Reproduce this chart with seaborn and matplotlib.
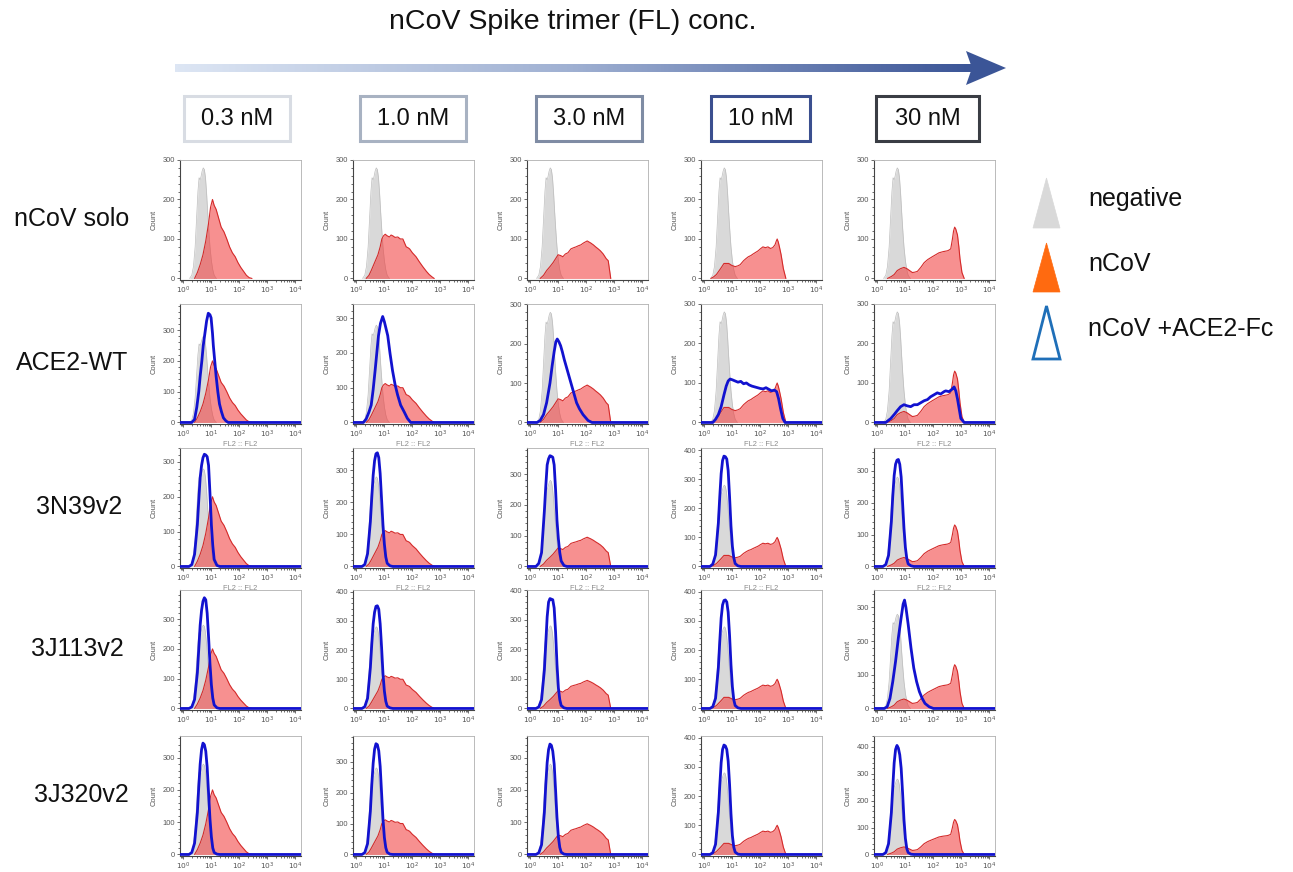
import numpy as np
import matplotlib
matplotlib.use("Agg")
import matplotlib.pyplot as plt
from matplotlib.colors import LinearSegmentedColormap
from matplotlib.patches import Polygon, Rectangle
from matplotlib.ticker import FixedLocator, MultipleLocator, LogLocator, NullFormatter
import seaborn as sns

sns.set_theme(style="white")
plt.rcParams["font.family"] = ["Liberation Sans", "DejaVu Sans"]

# ---------------------------------------------------------------- labels
concentrations = ["0.3 nM", "1.0 nM", "3.0 nM", "10 nM", "30 nM"]
constructs = ["nCoV solo", "ACE2-WT", "3N39v2", "3J113v2", "3J320v2"]
legend_labels = ["negative", "nCoV", "nCoV +ACE2-Fc"]

# ---------------------------------------------------------------- negative control (log10 FL2, count)
neg_logx = [0.22, 0.30, 0.36, 0.42, 0.47, 0.52, 0.56, 0.60, 0.63, 0.67, 0.71,
            0.75, 0.79, 0.83, 0.87, 0.91, 0.95, 1.00, 1.05, 1.10, 1.18]
neg_count = [0, 8, 30, 80, 150, 220, 255, 250, 258, 272, 280,
             276, 255, 215, 165, 120, 80, 45, 22, 8, 0]

# ---------------------------------------------------------------- nCoV spike binding, one per concentration
red_logx = [
    [0.40, 0.50, 0.60, 0.70, 0.80, 0.90, 0.97, 1.04, 1.10, 1.17, 1.25, 1.35, 1.45,
     1.55, 1.65, 1.75, 1.85, 1.95, 2.05, 2.15, 2.25, 2.35, 2.45],
    [0.35, 0.45, 0.53, 0.65, 0.77, 0.85, 0.91, 0.97, 1.03, 1.10, 1.18, 1.24, 1.30,
     1.38, 1.48, 1.57, 1.66, 1.72, 1.78, 1.84, 1.90, 2.00, 2.13, 2.25, 2.37, 2.50,
     2.60, 2.70, 2.78],
    [0.35, 0.47, 0.58, 0.70, 0.81, 0.90, 0.99, 1.08, 1.16, 1.25, 1.34, 1.45, 1.55,
     1.63, 1.72, 1.80, 1.90, 2.03, 2.10, 2.15, 2.25, 2.33, 2.42, 2.50, 2.60, 2.71,
     2.78, 2.83, 2.87],
    [0.23, 0.33, 0.43, 0.58, 0.70, 0.80, 0.87, 0.98, 1.10, 1.20, 1.28, 1.34, 1.40,
     1.48, 1.57, 1.66, 1.74, 1.83, 1.92, 2.00, 2.09, 2.18, 2.27, 2.36, 2.44, 2.52,
     2.57, 2.60, 2.64, 2.68, 2.74, 2.82, 2.91],
    [0.36, 0.50, 0.60, 0.71, 0.83, 0.95, 1.05, 1.15, 1.25, 1.34, 1.43, 1.55, 1.67,
     1.80, 1.96, 2.08, 2.20, 2.35, 2.50, 2.56, 2.62, 2.68, 2.72, 2.76, 2.80, 2.86,
     2.91, 2.95, 3.02, 3.10],
]
red_count = [
    [0, 15, 35, 60, 95, 140, 180, 200, 185, 175, 155, 130, 118,
     100, 80, 65, 55, 40, 28, 18, 8, 2, 0],
    [0, 8, 20, 40, 60, 80, 100, 108, 112, 108, 105, 110, 108,
     104, 105, 100, 100, 90, 80, 78, 75, 65, 55, 42, 30, 18, 10, 4, 0],
    [0, 8, 20, 30, 40, 50, 60, 58, 55, 62, 65, 75, 78,
     80, 83, 85, 90, 95, 92, 90, 85, 80, 75, 70, 62, 50, 45, 20, 0],
    [0, 4, 10, 25, 38, 38, 38, 33, 30, 32, 35, 40, 45,
     50, 55, 58, 62, 66, 70, 75, 80, 78, 80, 76, 78, 85, 95, 100, 92, 80, 60, 25, 0],
    [0, 5, 10, 20, 25, 28, 25, 20, 15, 16, 18, 28, 40,
     48, 55, 60, 65, 68, 70, 72, 75, 100, 120, 130, 125, 110, 80, 50, 15, 0],
]

# ---------------------------------------------------------------- nCoV + ACE2-WT Fc
ace2_logx = [
    [0.30, 0.40, 0.48, 0.55, 0.60, 0.66, 0.71, 0.77, 0.83, 0.89, 0.95, 0.99, 1.04,
     1.07, 1.12, 1.17, 1.23, 1.29, 1.36, 1.43, 1.52, 1.60],
    [0.25, 0.35, 0.45, 0.53, 0.60, 0.67, 0.73, 0.79, 0.86, 0.94, 1.00, 1.06, 1.12,
     1.20, 1.29, 1.38, 1.47, 1.58, 1.71, 1.82, 1.94],
    [0.24, 0.35, 0.47, 0.58, 0.70, 0.78, 0.85, 0.91, 0.96, 1.02, 1.08, 1.14, 1.21,
     1.29, 1.35, 1.41, 1.47, 1.53, 1.59, 1.65, 1.75, 1.88, 2.06, 2.20],
    [0.30, 0.40, 0.50, 0.60, 0.70, 0.78, 0.85, 0.92, 1.00, 1.10, 1.20, 1.30, 1.40,
     1.50, 1.60, 1.70, 1.80, 1.90, 2.00, 2.10, 2.20, 2.30, 2.40, 2.50, 2.58, 2.65,
     2.72, 2.80, 2.88],
    [0.30, 0.48, 0.60, 0.71, 0.83, 0.95, 1.07, 1.19, 1.31, 1.43, 1.55, 1.67, 1.79,
     1.90, 2.02, 2.14, 2.26, 2.38, 2.44, 2.56, 2.68, 2.74, 2.80, 2.86, 2.92, 2.98, 3.10],
]
ace2_count = [
    [0, 10, 50, 100, 150, 200, 250, 290, 330, 355, 350, 340, 290,
     250, 200, 150, 100, 60, 35, 15, 5, 0],
    [0, 10, 30, 50, 95, 150, 200, 250, 285, 305, 290, 270, 250,
     200, 150, 110, 80, 50, 30, 12, 0],
    [0, 5, 20, 50, 100, 145, 180, 205, 212, 205, 195, 180, 160,
     140, 125, 110, 95, 80, 65, 50, 35, 20, 5, 0],
    [0, 8, 20, 40, 70, 92, 105, 110, 108, 105, 102, 104, 98,
     100, 95, 92, 90, 88, 86, 85, 88, 84, 80, 82, 78, 60, 35, 10, 0],
    [0, 10, 20, 30, 40, 45, 42, 40, 45, 45, 50, 55, 58,
     65, 70, 75, 72, 78, 80, 78, 85, 90, 80, 60, 35, 10, 0],
]

# ---------------------------------------------------------------- nCoV + engineered binders (shared log10 grid)
binder_logx = [0.20, 0.30, 0.40, 0.50, 0.55, 0.60, 0.65, 0.70, 0.75,
               0.80, 0.85, 0.90, 0.95, 1.00, 1.05, 1.10, 1.20, 1.30]
binder_3N39v2 = [
    [0, 5, 35, 120, 190, 255, 290, 312, 322, 320, 315, 290, 210, 120, 60, 20, 3, 0],
    [0, 6, 40, 140, 215, 285, 330, 352, 355, 340, 290, 210, 130, 70, 30, 10, 2, 0],
    [0, 10, 45, 180, 260, 330, 350, 360, 358, 355, 330, 250, 150, 90, 45, 18, 3, 0],
    [0, 8, 40, 150, 240, 320, 365, 380, 378, 370, 330, 240, 140, 70, 30, 10, 2, 0],
    [0, 6, 35, 140, 220, 285, 320, 333, 335, 320, 280, 200, 120, 60, 25, 8, 2, 0],
]
binder_3J113v2 = [
    [0, 5, 30, 120, 200, 280, 330, 360, 372, 365, 320, 240, 150, 80, 35, 12, 2, 0],
    [0, 6, 35, 140, 220, 290, 330, 350, 352, 340, 290, 210, 120, 60, 25, 8, 2, 0],
    [0, 5, 30, 130, 220, 310, 360, 372, 370, 368, 340, 260, 150, 70, 30, 10, 2, 0],
    [0, 6, 35, 140, 230, 310, 355, 370, 372, 365, 330, 250, 150, 75, 30, 10, 2, 0],
    None,
]
# 3J113v2 at 30 nM is shifted and broader
j113_30nM_logx = [0.25, 0.35, 0.45, 0.55, 0.65, 0.75, 0.85, 0.92, 0.97, 1.02,
                  1.10, 1.20, 1.30, 1.40, 1.50, 1.60, 1.70, 1.85, 2.00]
j113_30nM_count = [0, 5, 30, 80, 140, 210, 270, 310, 322, 300,
                   250, 180, 120, 80, 50, 30, 15, 5, 0]
binder_3J320v2 = [
    [0, 6, 35, 130, 210, 280, 325, 345, 340, 320, 270, 190, 110, 55, 20, 6, 1, 0],
    [0, 6, 35, 140, 225, 295, 340, 358, 355, 335, 285, 200, 115, 55, 22, 7, 1, 0],
    [0, 5, 30, 130, 215, 285, 325, 342, 338, 320, 280, 200, 115, 55, 22, 7, 1, 0],
    [0, 6, 35, 145, 235, 315, 360, 375, 372, 360, 320, 240, 140, 65, 25, 8, 1, 0],
    [0, 7, 40, 155, 250, 340, 390, 405, 395, 370, 320, 230, 130, 60, 22, 7, 1, 0],
]

# upper count limit of each panel's y axis (rows x concentrations)
ylim_top = [
    [300, 300, 300, 300, 300],
    [385, 341, 301, 300, 300],
    [340, 370, 385, 408, 371],
    [398, 406, 401, 406, 352],
    [367, 383, 367, 406, 440],
]

# ---------------------------------------------------------------- layout (pixels)
W, H = 1293, 872
col_left = [180, 353, 527, 701, 874]
row_top = [160, 304, 448, 590, 736]
pw, ph = 121, 120
LOG_MIN, LOG_MAX = -0.12, 4.2

GREY_FILL, GREY_EDGE = "#d9d9d9", "#bdbdbd"
RED_FILL, RED_EDGE = (0.95, 0.25, 0.25, 0.58), "#d42a2a"
BLUE = "#1212cf"
TICK_FS = 5.4

fig = plt.figure(figsize=(W / 100, H / 100), dpi=100)

# overlay in pixel coordinates for header, row labels and legend
bg = fig.add_axes([0, 0, 1, 1], zorder=0)
bg.set_xlim(0, W)
bg.set_ylim(H, 0)
bg.axis("off")
bg.patch.set_alpha(0)

bg.text(573, 22, "nCoV Spike trimer (FL) conc.", ha="center", va="center",
        fontsize=20.5, color="#111111")

# gradient arrow
arrow_cmap = LinearSegmentedColormap.from_list("arr", ["#dde6f4", "#9fb0d2", "#3b5597"])
grad = np.linspace(0, 1, 400).reshape(1, -1)
bg.imshow(grad, cmap=arrow_cmap, extent=[175, 972, 72, 64], aspect="auto",
          interpolation="bilinear", zorder=1)
bg.add_patch(Polygon([[966, 51], [1006, 68], [966, 85], [972, 68]], closed=True,
                     facecolor="#3b5597", edgecolor="none", zorder=2))
bg.set_xlim(0, W)
bg.set_ylim(H, 0)

box_x = [184, 360, 536, 711, 876]
box_w = [106, 106, 106, 99, 103]
box_colors = ["#d8dce3", "#a8b2c2", "#7f8ca4", "#3b4f8f", "#3a3d44"]
for x0, bw, c, lab in zip(box_x, box_w, box_colors, concentrations):
    bg.add_patch(Rectangle((x0, 96), bw, 45, facecolor="white", edgecolor=c, lw=2.2))
    bg.text(x0 + bw / 2, 119, lab, ha="center", va="center", fontsize=17, color="#111111")

row_label_x = [72, 72, 79, 77, 81]
for r, (lab, lx) in enumerate(zip(constructs, row_label_x)):
    bg.text(lx, row_top[r] + 59, lab, ha="center", va="center", fontsize=18, color="#111111")

# legend
tri_specs = [
    (178, 228, dict(facecolor="#d9d9d9", edgecolor="#d9d9d9", lw=0.5)),
    (243, 292, dict(facecolor="#ff6a10", edgecolor="#ff6a10", lw=0.5)),
    (306, 359, dict(facecolor="white", edgecolor="#1f6fb8", lw=2.0)),
]
for (ytop, ybot, style), lab in zip(tri_specs, legend_labels):
    bg.add_patch(Polygon([[1033, ybot], [1046.5, ytop], [1060, ybot]], closed=True, **style))
    bg.text(1088, (ytop + ybot) / 2 - 4, lab, ha="left", va="center", fontsize=18, color="#111111")


def blue_curve(r, c):
    if r == 1:
        return ace2_logx[c], ace2_count[c]
    if r == 2:
        return binder_logx, binder_3N39v2[c]
    if r == 3:
        if c == 4:
            return j113_30nM_logx, j113_30nM_count
        return binder_logx, binder_3J113v2[c]
    if r == 4:
        return binder_logx, binder_3J320v2[c]
    return None


for r in range(5):
    for c in range(5):
        left = col_left[c] / W
        bottom = 1 - (row_top[r] + ph) / H
        ax = fig.add_axes([left, bottom, pw / W, ph / H], zorder=2)
        ax.set_xscale("log")

        gx = 10 ** np.array(neg_logx)
        ax.fill_between(gx, neg_count, color=GREY_FILL, lw=0, zorder=1)
        sns.lineplot(x=gx, y=neg_count, ax=ax, color=GREY_EDGE, lw=0.5, zorder=2,
                     estimator=None, sort=False)

        rx = 10 ** np.array(red_logx[c])
        ax.fill_between(rx, red_count[c], color=RED_FILL, lw=0, zorder=3)
        sns.lineplot(x=rx, y=red_count[c], ax=ax, color=RED_EDGE, lw=0.8, zorder=4,
                     estimator=None, sort=False)

        bc = blue_curve(r, c)
        if bc is not None:
            bx = 10 ** np.array([LOG_MIN] + list(bc[0]) + [LOG_MAX])
            by = [0] + list(bc[1]) + [0]
            sns.lineplot(x=bx, y=by, ax=ax, color=BLUE, lw=2.0, zorder=5,
                         estimator=None, sort=False)

        top = ylim_top[r][c]
        ax.set_xlim(10 ** LOG_MIN, 10 ** LOG_MAX)
        ax.set_ylim(-0.013 * top, top)
        ax.xaxis.set_major_locator(FixedLocator([1, 10, 100, 1000, 10000]))
        ax.set_xticklabels([r"$10^{0}$", r"$10^{1}$", r"$10^{2}$", r"$10^{3}$", r"$10^{4}$"])
        ax.xaxis.set_minor_locator(LogLocator(base=10, subs=np.arange(2, 10)))
        ax.xaxis.set_minor_formatter(NullFormatter())
        ax.yaxis.set_major_locator(FixedLocator([v for v in (0, 100, 200, 300, 400) if v <= top]))
        ax.yaxis.set_minor_locator(MultipleLocator(20))
        ax.tick_params(which="both", direction="out", labelsize=TICK_FS, pad=1.2,
                       colors="#555555", width=0.6, bottom=True, left=True)
        ax.tick_params(which="major", length=2.2)
        ax.tick_params(which="minor", length=1.2)
        ax.set_ylabel("Count", fontsize=TICK_FS, color="#555555", labelpad=4)
        ax.set_xlabel("")
        for s in ("left", "bottom"):
            ax.spines[s].set_color("#444444")
            ax.spines[s].set_linewidth(0.8)
        for s in ("top", "right"):
            ax.spines[s].set_color("#b0b0b0")
            ax.spines[s].set_linewidth(0.6)
        ax.set_facecolor("white")
        ax.grid(False)
        if r == 2:
            ax.set_title("FL2 :: FL2", fontsize=TICK_FS, color="#8a8a8a", pad=1.0)
            ax.set_xlabel("FL2 :: FL2", fontsize=TICK_FS, color="#8a8a8a", labelpad=0.5)

fig.savefig("out.png", dpi=100, facecolor="white")
